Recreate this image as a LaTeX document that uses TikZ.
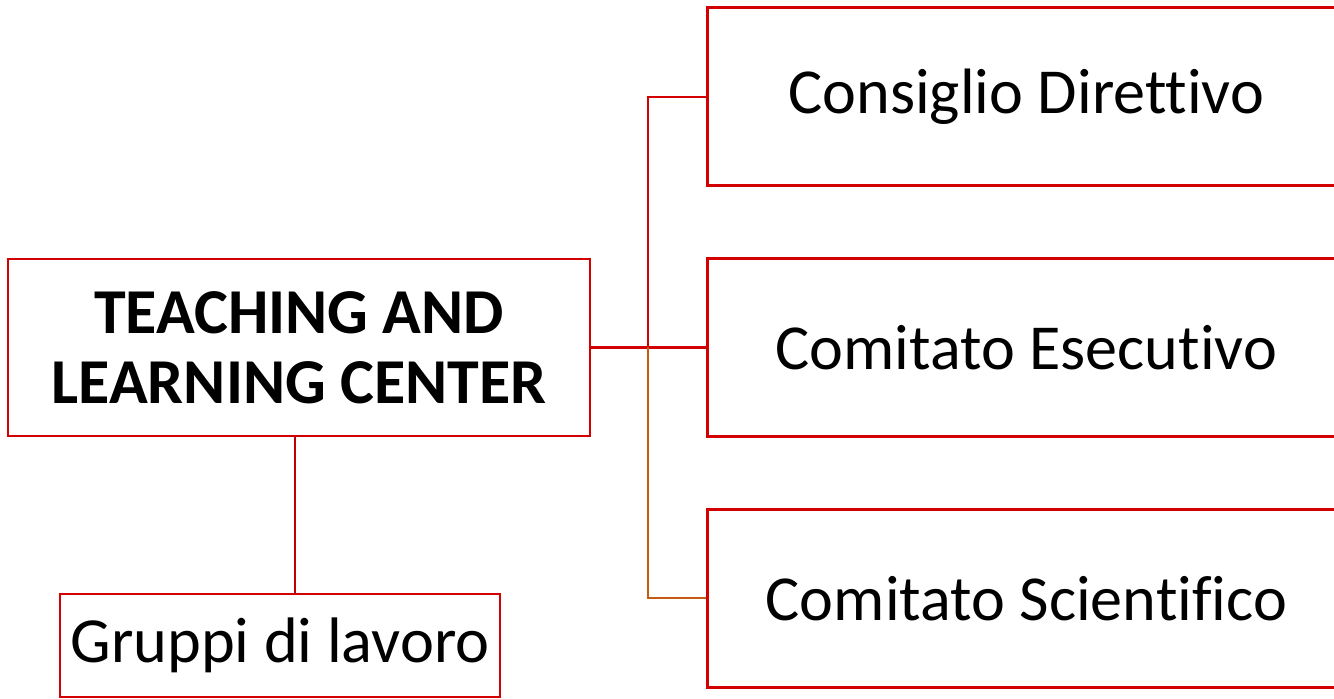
\documentclass[tikz,border=0pt]{standalone}
\usepackage{fontspec}
\setmainfont[Ligatures=NoCommon]{Carlito}
\usepackage{tikz}
\usetikzlibrary{positioning}
\usepackage{xcolor}
\definecolor{boxred}{RGB}{210,0,0}
\definecolor{linkorange}{RGB}{197,90,17}
\definecolor{darkred}{RGB}{192,0,0}

\begin{document}
\begin{tikzpicture}[
    every node/.style={draw=boxred, line width=1.6pt, rectangle, align=center, inner sep=0pt},
    unit/.style={minimum width=12.76cm, minimum height=3.56cm, font=\fontsize{36.5}{44}\selectfont},
    link/.style={draw=boxred, line width=1.3pt},
    sublink/.style={draw=linkorange, line width=1.3pt}
]
\useasboundingbox (0,0) rectangle (26.68,13.98);
\clip (0,0) rectangle (26.68,13.98);

% Nodes
\node[minimum width=11.64cm, minimum height=3.54cm, font=\bfseries\fontsize{36.4}{40}\selectfont] (tlc) at (5.98,7.03) {TEACHING AND\\LEARNING CENTER};
\node[unit, anchor=west] (esec) at (14.12,7.03) {Comitato Esecutivo};
\node[unit, above=1.40cm of esec] (dir) {Consiglio Direttivo};
\node[unit, below=1.40cm of esec] (sci) {Comitato Scientifico};
\node[minimum width=8.8cm, minimum height=2.06cm, font=\fontsize{36.6}{44}\selectfont] (grp) at (5.6,1.07) {Gruppi di lavoro};
\coordinate (fork) at (12.96,7.03);

% Connectors
\draw[link] (tlc.east) -- (esec.west);
\draw[link] (fork) |- (dir.west);
\draw[sublink] (fork) |- (sci.west);
\draw[draw=darkred, line width=0.8pt] (tlc.south -| 5.9,0) -- (grp.north -| 5.9,0);

\end{tikzpicture}
\end{document}
